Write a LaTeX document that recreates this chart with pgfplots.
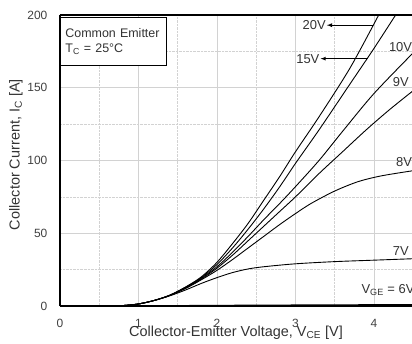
\documentclass[border=0pt]{standalone}
\usepackage{pgfplots}
\pgfplotsset{compat=1.18}
\usepackage{fontspec}
\setmainfont{Liberation Sans}
\begin{document}
\begin{tikzpicture}
\path[use as bounding box] (-60bp,-38bp) rectangle (352bp,306bp);
\begin{axis}[
  width=352bp, height=291bp, scale only axis,
  xmin=0, xmax=4.485, ymin=0, ymax=200,
  axis x line=box, axis y line*=left,
  axis line style={line width=1.6pt, black},
  xtick={0,1,2,3,4}, ytick={0,50,100,150,200},
  minor x tick num=1, minor y tick num=1,
  major tick length=0pt, minor tick length=0pt,
  grid=both,
  major grid style={gray!35, line width=0.6pt},
  minor grid style={gray!35, densely dotted, line width=0.6pt},
  tick label style={font=\fontsize{12}{14}\selectfont, text=black!75, inner sep=0pt},
  /pgf/number format/assume math mode=true,
  xticklabel style={anchor=base, yshift=-21bp},
  yticklabel style={anchor=east, xshift=-12.5bp},
  xlabel={Collector-Emitter Voltage, V\textsubscript{CE} [V]},
  ylabel={Collector Current, I\textsubscript{C} [A]},
  label style={font=\fontsize{14.5}{16}\selectfont, text=black!80},
  xlabel style={at={(axis description cs:0.50,-0.093)}, anchor=center},
  ylabel style={at={(axis description cs:-0.125,0.52)}, anchor=center},
  clip=true,
]
% 6V
\addplot[black, line width=1pt] coordinates {(0.6,0) (1.5,0.3) (2.5,0.6) (3.5,0.8) (4.5,1)};
% 7V
\addplot[black, line width=0.9pt, smooth] coordinates {(0.6,0) (0.8,0.3) (1.0,1.4) (1.2,3.8) (1.4,7) (1.6,11) (1.8,15.5) (2.0,19.5) (2.2,23) (2.4,25.5) (2.6,27) (3.0,29) (3.5,30.5) (4.0,31.5) (4.5,32.5)};
% 8V
\addplot[black, line width=0.9pt, smooth] coordinates {(0.6,0) (0.8,0.3) (1.0,1.4) (1.2,3.8) (1.4,7.3) (1.6,12) (1.8,18) (2.0,24.5) (2.2,32) (2.4,40) (2.6,48) (2.8,56) (3.0,63.5) (3.2,70.5) (3.5,79) (3.8,85.5) (4.1,89.5) (4.5,93)};
% 9V
\addplot[black, line width=0.9pt, smooth] coordinates {(0.6,0) (0.8,0.3) (1.0,1.4) (1.2,3.8) (1.4,7.3) (1.6,12.5) (1.8,18.5) (2.0,26) (2.2,35) (2.4,45) (2.6,55) (2.8,65) (3.0,75) (3.3,91) (3.6,106) (3.9,121) (4.2,135) (4.5,148)};
% 10V
\addplot[black, line width=0.9pt, smooth] coordinates {(0.6,0) (0.8,0.3) (1.0,1.4) (1.2,3.8) (1.4,7.3) (1.6,12.5) (1.8,19) (2.0,27) (2.2,37) (2.4,48) (2.6,59.5) (2.8,70.5) (3.0,82) (3.3,100) (3.6,120) (4.0,146) (4.5,174)};
% 15V
\addplot[black, line width=0.9pt, smooth] coordinates {(0.6,0) (0.8,0.3) (1.0,1.4) (1.2,3.8) (1.4,7.4) (1.6,13) (1.8,19.5) (2.0,28.5) (2.2,40) (2.4,53) (2.6,67) (2.8,82) (3.0,98) (3.3,121) (3.7,153) (4.0,177) (4.3,202)};
% 20V
\addplot[black, line width=0.9pt, smooth] coordinates {(0.6,0) (0.8,0.3) (1.0,1.4) (1.2,3.8) (1.4,7.5) (1.6,13) (1.8,20) (2.0,30) (2.2,43) (2.4,57) (2.6,73) (2.8,89) (3.0,106) (3.3,130) (3.7,164) (4.08,202)};

\draw[-latex, line width=0.8pt] (axis cs:3.99,193) -- (axis cs:3.40,193);
\draw[-latex, line width=0.8pt] (axis cs:3.92,170) -- (axis cs:3.32,170);
\node[font=\fontsize{13}{15}\selectfont, text=black!80, anchor=east, inner sep=1pt] at (axis cs:3.40,193) {20V};
\node[font=\fontsize{13}{15}\selectfont, text=black!80, anchor=east, inner sep=1pt] at (axis cs:3.32,170) {15V};
\node[font=\fontsize{13}{15}\selectfont, text=black!80, anchor=west, inner sep=0pt] at (axis cs:4.19,178) {10V};
\node[font=\fontsize{13}{15}\selectfont, text=black!80, anchor=west, inner sep=0pt] at (axis cs:4.24,154) {9V};
\node[font=\fontsize{13}{15}\selectfont, text=black!80, anchor=west, inner sep=0pt] at (axis cs:4.28,99) {8V};
\node[font=\fontsize{13}{15}\selectfont, text=black!80, anchor=west, inner sep=0pt] at (axis cs:4.24,38) {7V};
\node[font=\fontsize{13}{15}\selectfont, text=black!80, anchor=west, inner sep=0pt] at (axis cs:3.84,11) {V\textsubscript{GE} = 6V};
\node[draw=black, line width=0.8pt, fill=white, anchor=north west, align=left,
      font=\fontsize{12.5}{15}\selectfont, text=black!80, inner xsep=5bp, inner ysep=3bp,
      minimum height=48bp, text width=96bp]
  at (axis cs:0,198.8) {Common Emitter\\T\textsubscript{C} = 25°C};
\end{axis}
\end{tikzpicture}
\end{document}
